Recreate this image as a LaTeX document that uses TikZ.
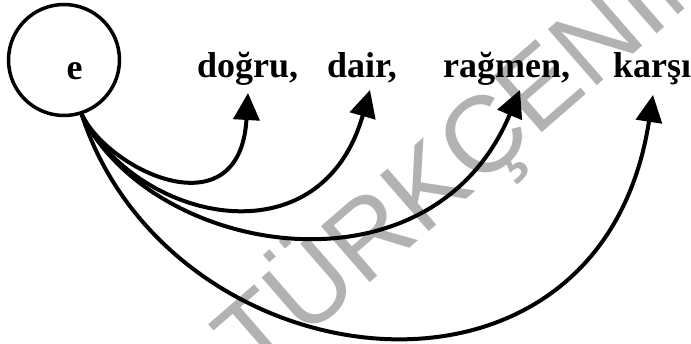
\documentclass[tikz,border=0pt]{standalone}
\usepackage{fontspec}
\setmainfont{Liberation Serif}
\newfontfamily\wmfont{Liberation Sans}
\usetikzlibrary{arrows.meta}

\tikzset{
  word/.style={font=\fontsize{36}{40}\selectfont\bfseries, inner sep=0pt, anchor=base west},
  arr/.style={line width=4pt, -{Triangle[length=27pt,width=26pt]}},
}

\begin{document}
\begin{tikzpicture}[x=1pt, y=-1pt]
  \useasboundingbox (0,0) rectangle (691,344);

  % filigran
  \begin{scope}
    \clip (0,0) rectangle (691,344);
    \node[font=\wmfont\fontsize{108}{108}\selectfont, text=black!30, rotate=41,
          anchor=base west, inner sep=0pt] (wm) at (255,383) {TÜRKÇENİN};
  \end{scope}

  % e ve kelimeler
  \node[circle, draw, line width=3.5pt, minimum size=111pt, inner sep=0pt] (ecirc) at (64,60) {};
  \node[word, anchor=base] (e) at (74.5,80) {e};
  \node[word] (dogru) at (197,78) {doğru,};
  \node[word] (dair) at (327,78) {dair,};
  \node[word] (ragmen) at (443,78) {rağmen,};
  \node[word] (karsi) at (613,78) {karşı};

  % oklar
  \coordinate (src) at (ecirc.-72);
  \coordinate (tA) at (248,93);
  \coordinate (tB) at (370,90);
  \coordinate (tC) at (520,90);
  \coordinate (tD) at (653,95);
  \draw[arr] (src) .. controls (110,172) and (240,232) .. (tA);
  \draw[arr] (src) .. controls (135,220) and (320,265) .. (tB);
  \draw[arr] (src) .. controls (150,255) and (430,305) .. (tC);
  \draw[arr] (src) .. controls (170,385) and (600,440) .. (tD);
\end{tikzpicture}
\end{document}
